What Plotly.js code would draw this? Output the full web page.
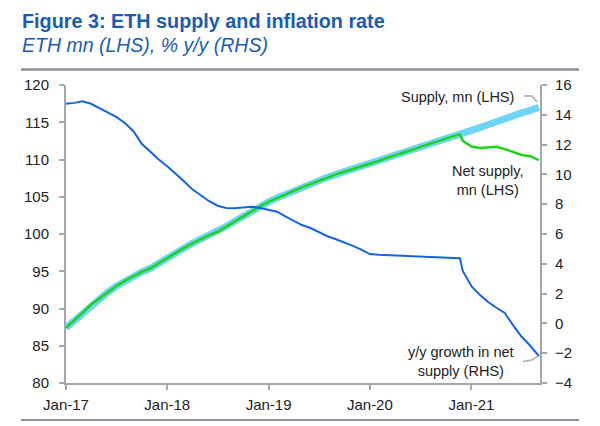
<!DOCTYPE html>
<html>
<head>
<meta charset="utf-8">
<script src="https://cdn.plot.ly/plotly-3.0.1.min.js"></script>
<style>html,body{margin:0;padding:0;background:#fff;}#chart{width:600px;height:426px;}</style>
</head>
<body>
<div id="chart"></div>
<script>
// Dates (monthly, plus one mid-month point where the series turn)
const dates = [
 "2017-01-01","2017-02-01","2017-03-01","2017-04-01","2017-05-01","2017-06-01","2017-07-01","2017-08-01","2017-09-01","2017-10-01","2017-11-01","2017-12-01",
 "2018-01-01","2018-02-01","2018-03-01","2018-04-01","2018-05-01","2018-06-01","2018-07-01","2018-08-01","2018-09-01","2018-10-01","2018-11-01","2018-12-01",
 "2019-01-01","2019-02-01","2019-03-01","2019-04-01","2019-05-01","2019-06-01","2019-07-01","2019-08-01","2019-09-01","2019-10-01","2019-11-01","2019-12-01",
 "2020-01-01","2020-02-01","2020-03-01","2020-04-01","2020-05-01","2020-06-01","2020-07-01","2020-08-01","2020-09-01","2020-10-01","2020-11-01","2020-11-20","2020-12-01",
 "2021-01-01","2021-02-01","2021-03-01","2021-04-01","2021-05-01","2021-06-01","2021-07-01","2021-08-01","2021-09-01"
];
// Supply, mn (LHS)
const supply = [
 87.4,88.4,89.4,90.5,91.3,92.2,93.0,93.7,94.35,94.9,95.4,96.1,
 96.8,97.45,98.1,98.75,99.3,99.85,100.3,101.0,101.7,102.4,103.05,103.7,
 104.3,104.85,105.3,105.8,106.25,106.7,107.15,107.6,108.0,108.35,108.7,109.1,
 109.45,109.8,110.2,110.55,110.95,111.3,111.7,112.05,112.4,112.8,113.15,113.4,113.55,
 113.9,114.3,114.7,115.1,115.5,115.85,116.25,116.6,117.0
];
// Net supply, mn (LHS)
const netSupply = [
 87.4,88.4,89.4,90.5,91.3,92.2,93.0,93.7,94.35,94.9,95.4,96.1,
 96.8,97.45,98.1,98.75,99.3,99.85,100.3,101.0,101.7,102.4,103.05,103.7,
 104.3,104.85,105.3,105.8,106.25,106.7,107.15,107.6,108.0,108.35,108.7,109.1,
 109.45,109.8,110.2,110.55,110.95,111.3,111.7,112.05,112.4,112.8,113.15,113.4,112.5,
 111.75,111.55,111.6,111.7,111.4,110.95,110.6,110.45,109.9
];
// y/y growth in net supply, % (RHS)
const yoyGrowth = [
 14.75,14.8,14.9,14.74,14.45,14.15,13.86,13.45,12.9,12.05,11.5,11.0,
 10.55,10.05,9.55,9.0,8.6,8.2,7.9,7.75,7.72,7.75,7.83,7.75,
 7.65,7.5,7.2,6.9,6.6,6.4,6.15,5.85,5.65,5.45,5.2,4.95,
 4.65,4.6,4.58,4.56,4.54,4.52,4.5,4.48,4.47,4.45,4.43,4.38,3.5,
 2.5,1.9,1.45,1.05,0.7,-0.15,-0.9,-1.5,-2.2
];
const xTickVals = ["2017-01-01","2018-01-01","2019-01-01","2020-01-01","2021-01-01"];
const xTickText = ["Jan-17","Jan-18","Jan-19","Jan-20","Jan-21"];

const FONT = "Arial, 'Liberation Sans', sans-serif";
const AXC = "#a3a8ae";
const TXT = "#222222";
const TBLUE = "#1a5cb3";

const traces = [
  {x: dates, y: supply, type: "scatter", mode: "lines", name: "Supply, mn (LHS)",
   line: {color: "#6fd5f6", width: 7}, yaxis: "y"},
  {x: dates, y: netSupply, type: "scatter", mode: "lines", name: "Net supply, mn (LHS)",
   line: {color: "#1ed21e", width: 2.5}, yaxis: "y"},
  {x: dates, y: yoyGrowth, type: "scatter", mode: "lines", name: "y/y growth in net supply (RHS)",
   line: {color: "#1463e6", width: 2}, yaxis: "y2"}
];

const L = 66, R = 540, T = 85, B = 383;
const px = v => (v - L) / (R - L);
const py = v => (B - v) / (B - T);

const layout = {
  width: 600, height: 426,
  margin: {l: L, r: 600 - R, t: T, b: 426 - B, pad: 0},
  paper_bgcolor: "#fff", plot_bgcolor: "#fff",
  showlegend: false,
  font: {family: FONT, size: 14, color: TXT},
  xaxis: {
    type: "date", range: ["2017-01-01", "2021-09-05"],
    tickvals: xTickVals, ticktext: xTickText,
    showgrid: false, zeroline: false,
    showline: true, linecolor: AXC, linewidth: 2,
    ticks: "outside", ticklen: 5, tickwidth: 2, tickcolor: AXC,
    ticklabelstandoff: 2,
    tickfont: {family: FONT, size: 15, color: TXT}
  },
  yaxis: {
    range: [80, 120], dtick: 5, tick0: 80,
    showgrid: false, zeroline: false,
    showline: true, linecolor: AXC, linewidth: 2,
    ticks: "outside", ticklen: 5, tickwidth: 2, tickcolor: AXC,
    ticklabelstandoff: 7,
    tickfont: {family: FONT, size: 15, color: TXT}
  },
  yaxis2: {
    range: [-4, 16], dtick: 2, tick0: -4, overlaying: "y", side: "right",
    showgrid: false, zeroline: false,
    showline: true, linecolor: AXC, linewidth: 2,
    ticks: "outside", ticklen: 5, tickwidth: 2, tickcolor: AXC,
    ticklabelstandoff: 5,
    tickfont: {family: FONT, size: 15, color: TXT}
  },
  annotations: [
    {text: "<b>Figure 3: ETH supply and inflation rate</b>", xref: "paper", yref: "paper",
     x: px(20), y: py(21), xanchor: "left", yanchor: "middle", showarrow: false,
     font: {family: FONT, size: 19.8, color: TBLUE}},
    {text: "<i>ETH mn (LHS), % y/y (RHS)</i>", xref: "paper", yref: "paper",
     x: px(20), y: py(45), xanchor: "left", yanchor: "middle", showarrow: false,
     font: {family: FONT, size: 19.5, color: TBLUE}},
    {text: "Supply, mn (LHS)", xref: "paper", yref: "paper",
     x: px(457), y: py(97), xanchor: "center", yanchor: "middle", showarrow: false,
     font: {family: FONT, size: 14.5, color: TXT}},
    {text: "Net supply,<br>mn (LHS)", xref: "paper", yref: "paper",
     x: px(487), y: py(180), xanchor: "center", yanchor: "middle", align: "center", showarrow: false,
     font: {family: FONT, size: 14.5, color: TXT}},
    {text: "y/y growth in net<br>supply (RHS)", xref: "paper", yref: "paper",
     x: px(461), y: py(361.5), xanchor: "center", yanchor: "middle", align: "center", showarrow: false,
     font: {family: FONT, size: 14.5, color: TXT}}
  ],
  shapes: [
    {type: "line", xref: "paper", yref: "paper", x0: px(21), x1: px(579), y0: py(69.5), y1: py(69.5),
     line: {color: "#8c9299", width: 2.5}},
    {type: "line", xref: "paper", yref: "paper", x0: px(21), x1: px(579), y0: py(420), y1: py(420),
     line: {color: "#8c9299", width: 2}},
    {type: "path", xref: "paper", yref: "paper",
     path: "M " + px(524) + "," + py(96) + " L " + px(532) + "," + py(96) + " L " + px(537) + "," + py(102),
     line: {color: "#aaaaaa", width: 1.5}},
    {type: "path", xref: "paper", yref: "paper",
     path: "M " + px(523) + "," + py(361.5) + " L " + px(532) + "," + py(360) + " L " + px(538) + "," + py(356),
     line: {color: "#aaaaaa", width: 1.5}}
  ]
};

Plotly.newPlot("chart", traces, layout, {displayModeBar: false, staticPlot: true});
</script>
</body>
</html>
